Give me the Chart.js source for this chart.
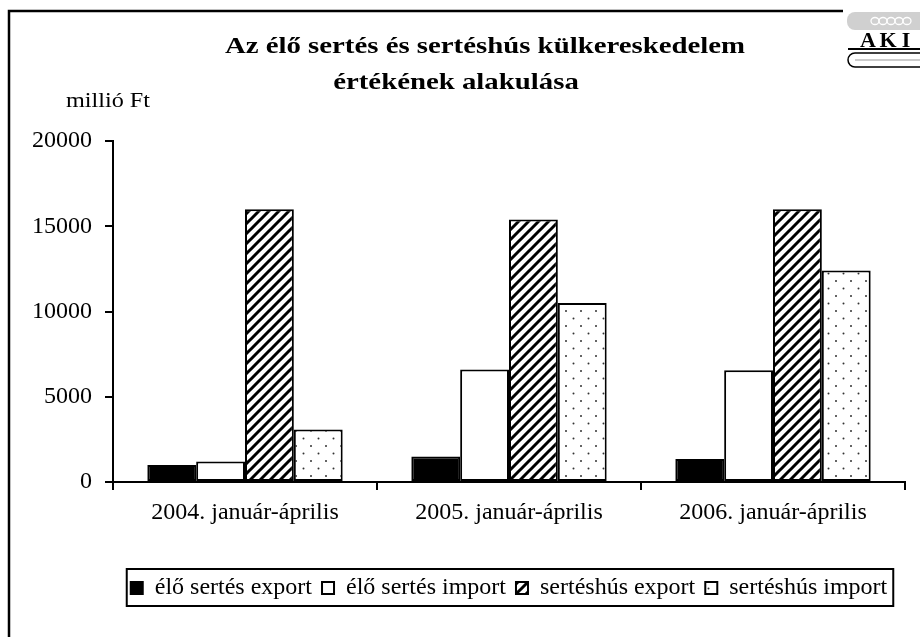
<!DOCTYPE html>
<html>
<head>
<meta charset="utf-8">
<script src="https://cdn.jsdelivr.net/npm/chart.js@4.4.0/dist/chart.umd.min.js"></script>
<style>
  html, body { margin: 0; padding: 0; background: #fff; }
  #wrap { width: 920px; height: 637px; }
</style>
</head>
<body>
<div id="wrap"><canvas id="chart" width="920" height="637"></canvas></div>
<script>
// adatok (millió Ft)
const categories = ["2004. január-április", "2005. január-április", "2006. január-április"];
const eloSertesExport = [1000, 1500, 1350];
const eloSertesImport = [1200, 6600, 6550];
const sertesHusExport = [16000, 15400, 16000];
const sertesHusImport = [3080, 10500, 12400];
const yMin = 0, yMax = 20000, yStep = 5000;

const seriesNames = ["élő sertés export", "élő sertés import", "sertéshús export", "sertéshús import"];
const FONT = "'Liberation Serif', 'Times New Roman', serif";

// mintázatok (ferde csíkos, pontozott)
function hatchPattern() {
    const c = document.createElement("canvas");
    c.width = 10; c.height = 10;
    const g = c.getContext("2d");
    g.fillStyle = "#fff";
    g.fillRect(0, 0, 10, 10);
    g.strokeStyle = "#000";
    g.lineWidth = 3;
    g.beginPath();
    g.moveTo(-2, 12); g.lineTo(12, -2);
    g.moveTo(-7, 7); g.lineTo(7, -7);
    g.moveTo(3, 17); g.lineTo(17, 3);
    g.stroke();
    return g.createPattern(c, "repeat");
}

function dotPattern() {
    const c = document.createElement("canvas");
    c.width = 15; c.height = 15;
    const g = c.getContext("2d");
    g.fillStyle = "#fff";
    g.fillRect(0, 0, 15, 15);
    g.fillStyle = "#333";
    g.beginPath(); g.arc(3.5, 3.5, 1, 0, Math.PI * 2); g.fill();
    g.beginPath(); g.arc(11, 11, 1, 0, Math.PI * 2); g.fill();
    return g.createPattern(c, "repeat");
}

// vízszintesen nyújtott szöveg (a minta betűi szélesebbek)
function wideText(ctx, text, x, y, sx) {
    ctx.save();
    ctx.translate(x, y);
    ctx.scale(sx, 1);
    ctx.fillText(text, 0, 0);
    ctx.restore();
}

// keret, cím, logó, jelmagyarázat kerete
const decorPlugin = {
    id: "decor",
    beforeDraw(chart) {
        const ctx = chart.ctx;
        ctx.save();
        ctx.fillStyle = "#fff";
        ctx.fillRect(0, 0, chart.width, chart.height);
        ctx.restore();
    },
    afterDraw(chart) {
        const ctx = chart.ctx;
        ctx.save();

        // külső keret
        ctx.strokeStyle = "#000";
        ctx.lineWidth = 2.5;
        ctx.beginPath();
        ctx.moveTo(9, 700);
        ctx.lineTo(9, 11);
        ctx.lineTo(930, 11);
        ctx.stroke();

        // cím
        ctx.fillStyle = "#000";
        ctx.textAlign = "center";
        ctx.textBaseline = "middle";
        ctx.font = "bold 24px " + FONT;
        wideText(ctx, "Az élő sertés és sertéshús külkereskedelem", 485, 47, 1.2);
        wideText(ctx, "értékének alakulása", 456, 83, 1.2);

        // mértékegység
        ctx.font = "22px " + FONT;
        ctx.textAlign = "left";
        wideText(ctx, "millió Ft", 66, 101, 1.1);

        // AKI logó
        ctx.fillStyle = "#fff";
        ctx.fillRect(843, 4, 77, 66);
        ctx.fillStyle = "#d0d0d0";
        ctx.beginPath();
        ctx.roundRect(847, 12, 80, 18, 8);
        ctx.fill();
        ctx.strokeStyle = "#fff";
        ctx.lineWidth = 1.3;
        for (let i = 0; i < 5; i++) {
            ctx.beginPath();
            ctx.ellipse(875 + i * 8, 21, 4, 3.5, 0, 0, Math.PI * 2);
            ctx.stroke();
        }
        ctx.fillStyle = "#000";
        ctx.font = "bold 22px " + FONT;
        ctx.textAlign = "center";
        ctx.textBaseline = "alphabetic";
        ctx.fillText("A", 868, 47);
        ctx.fillText("K", 888, 47);
        ctx.fillText("I", 906, 47);
        ctx.strokeStyle = "#000";
        ctx.lineWidth = 2;
        ctx.beginPath();
        ctx.moveTo(848, 49); ctx.lineTo(920, 49);
        ctx.stroke();
        ctx.lineWidth = 1.5;
        ctx.beginPath();
        ctx.roundRect(848, 53, 80, 14, 7);
        ctx.stroke();
        ctx.strokeStyle = "#bbb";
        ctx.beginPath();
        ctx.moveTo(855, 60); ctx.lineTo(920, 60);
        ctx.stroke();

        // jelmagyarázat kerete
        const boxes = chart.legend.legendHitBoxes;
        if (boxes && boxes.length) {
            const left = Math.min(...boxes.map(b => b.left)) - 4;
            const right = Math.max(...boxes.map(b => b.left + b.width)) + 6;
            const top = Math.min(...boxes.map(b => b.top)) - 7;
            const bottom = Math.max(...boxes.map(b => b.top + b.height)) + 6;
            ctx.strokeStyle = "#000";
            ctx.lineWidth = 2;
            ctx.strokeRect(left, top, right - left, bottom - top);
        }
        ctx.restore();
    }
};

const barStyle = {
    borderColor: "#000",
    borderWidth: 2,
    borderSkipped: false,
    barPercentage: 1,
    categoryPercentage: 0.74
};

const ctx = document.getElementById("chart").getContext("2d");
const chart = new Chart(ctx, {
    type: "bar",
    data: {
        labels: categories,
        datasets: [
            Object.assign({ label: seriesNames[0], data: eloSertesExport, backgroundColor: "#000" }, barStyle),
            Object.assign({ label: seriesNames[1], data: eloSertesImport, backgroundColor: "#fff" }, barStyle),
            Object.assign({ label: seriesNames[2], data: sertesHusExport, backgroundColor: hatchPattern() }, barStyle),
            Object.assign({ label: seriesNames[3], data: sertesHusImport, backgroundColor: dotPattern() }, barStyle),
        ],
    },
    options: {
        responsive: false,
        animation: false,
        devicePixelRatio: 1,
        layout: {
            padding: { left: 20, right: 15, top: 141, bottom: 27 },
        },
        plugins: {
            title: { display: false },
            tooltip: { enabled: false },
            legend: {
                position: "bottom",
                fullSize: false,
                labels: {
                    color: "#000",
                    font: { family: FONT, size: 24 },
                    boxWidth: 12,
                    boxHeight: 12,
                    padding: 10,
                },
            },
        },
        scales: {
            x: {
                grid: {
                    offset: true,
                    drawOnChartArea: false,
                    drawTicks: true,
                    tickLength: 8,
                    color: "#000",
                    lineWidth: 2,
                },
                border: { display: true, color: "#000", width: 2 },
                ticks: {
                    color: "#000",
                    font: { family: FONT, size: 24 },
                    padding: 8,
                    maxRotation: 0,
                },
                afterFit(scale) { scale.height = 84; },
            },
            y: {
                min: yMin,
                max: yMax,
                grid: {
                    drawOnChartArea: false,
                    drawTicks: true,
                    tickLength: 8,
                    color: "#000",
                    lineWidth: 2,
                },
                border: { display: true, color: "#000", width: 2 },
                ticks: {
                    stepSize: yStep,
                    color: "#000",
                    font: { family: FONT, size: 24 },
                    padding: 13,
                    callback: (v) => String(v),
                },
                afterFit(scale) { scale.width = 93; },
            },
        },
    },
    plugins: [decorPlugin],
});
</script>
</body>
</html>
